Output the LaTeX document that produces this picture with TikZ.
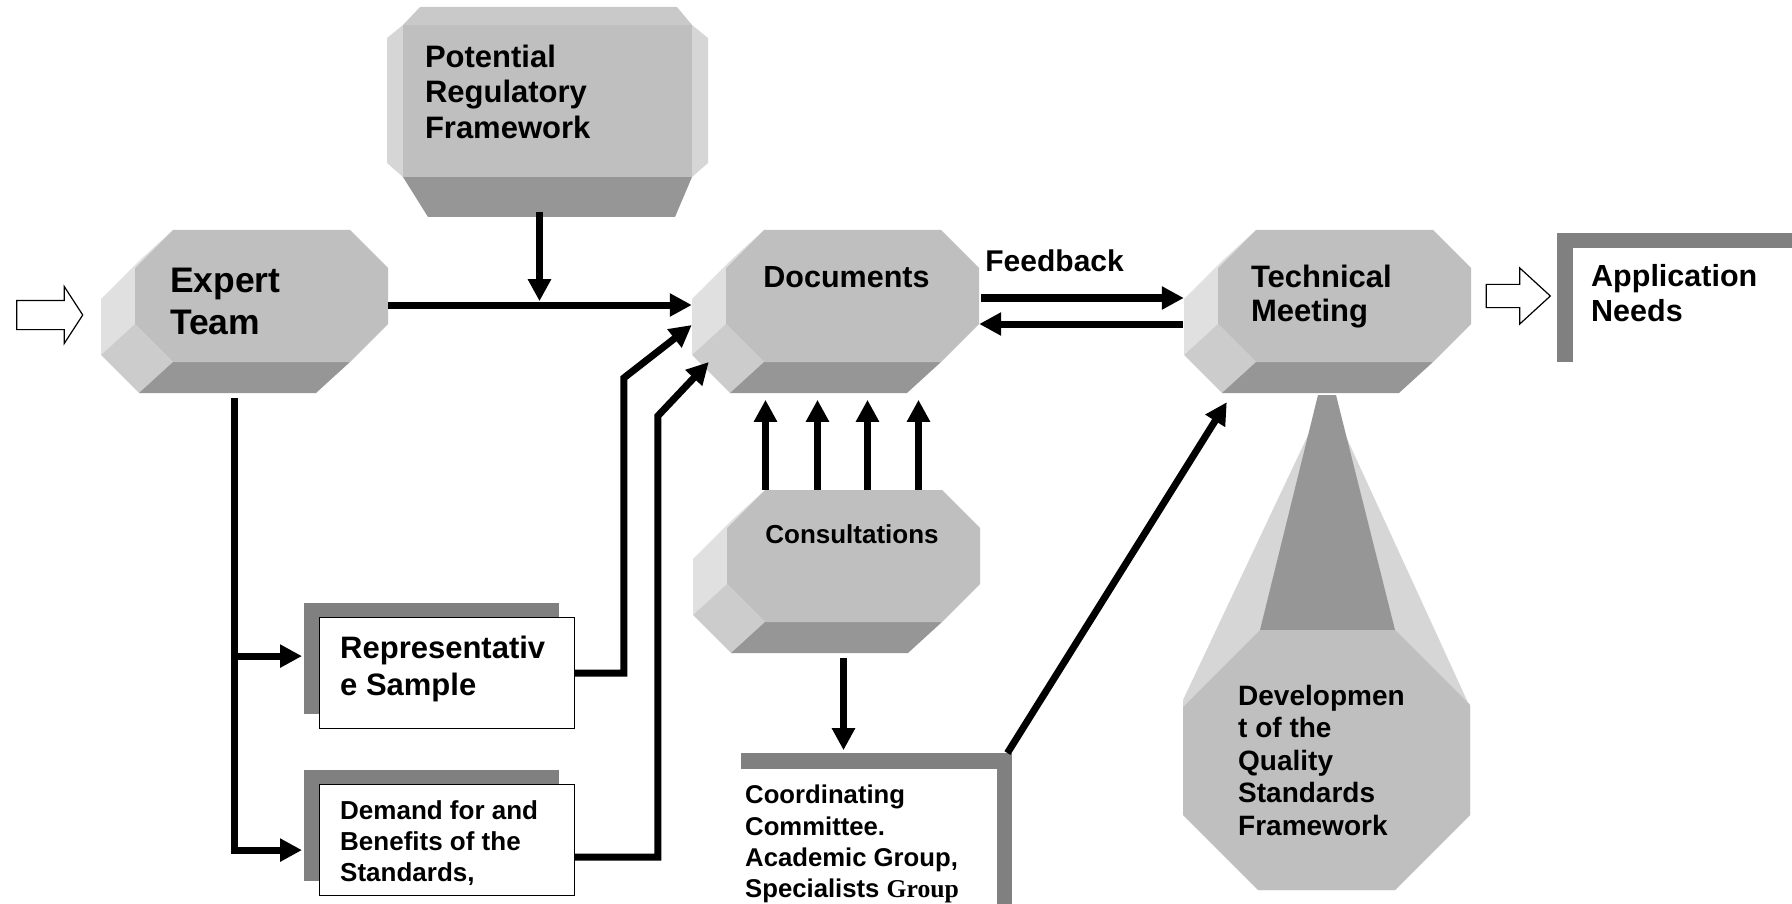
\documentclass[tikz,border=0pt]{standalone}
\usepackage{fontspec}
\setmainfont{Liberation Sans}
\newfontfamily\grpfont{Liberation Serif}
\usetikzlibrary{arrows.meta,calc,shapes.arrows,shadows}

\definecolor{facefront}{gray}{0.75}
\definecolor{faceleft}{gray}{0.88}
\definecolor{facechamf}{gray}{0.80}
\definecolor{facebottom}{gray}{0.59}
\definecolor{facetop}{gray}{0.79}
\definecolor{faceside}{gray}{0.84}
\definecolor{shadowgray}{gray}{0.5}

\newcommand{\txtsize}[2]{\fontsize{#1}{#2}\selectfont\bfseries}

% octagonal block seen from the lower left: name, left x, top y
\newcommand{\prism}[3]{%
  \begin{scope}[shift={(#2,#3)}]
    \fill[faceleft] (38,0) -- (0,38) -- (-34,69) -- (4,31) -- cycle;
    \fill[faceleft] (0,38) -- (0,94) -- (-34,125) -- (-34,69) -- cycle;
    \fill[facechamf] (0,94) -- (38,132) -- (4,163) -- (-34,125) -- cycle;
    \fill[facebottom] (38,132) -- (215,132) -- (181,163) -- (4,163) -- cycle;
    \fill[facefront] (38,0) -- (215,0) -- (253,38) -- (253,94) -- (215,132)
      -- (38,132) -- (0,94) -- (0,38) -- cycle;
    \node[frontface] (#1) at (126.5,66) {};
  \end{scope}}

\tikzset{
  conn/.style={line width=7pt, -{Triangle[length=22pt,width=22pt]}},
  hollow/.style={single arrow, draw, fill=white, line width=1.2pt, inner xsep=0},
  frontface/.style={inner sep=0, minimum width=253, minimum height=132},
  lbl/.style={inner sep=0, align=left, anchor=north west},
  box/.style={fill=white, inner sep=0, anchor=north west},
  leftshadow/.style={drop shadow={shadow xshift=-16pt, shadow yshift=15pt,
    fill=shadowgray, opacity=1}},
  rightshadow/.style={drop shadow={shadow xshift=15pt, shadow yshift=16pt,
    fill=shadowgray, opacity=1}}
}

\begin{document}
\begin{tikzpicture}[x=1pt, y=-1pt]
    \useasboundingbox (0,0) rectangle (1792,904);
    \fill[white] (0,0) rectangle (1792,904);

    % Blocks
    \prism{expert}{135}{230}
    \prism{docs}{726}{230}
    \prism{tech}{1218}{230}
    \prism{consult}{727}{490}

    % Potential regulatory framework
    \fill[facetop] (420,7) -- (677,7) -- (692,25) -- (403,25) -- cycle;
    \fill[faceside] (403,25) -- (387,38) -- (387,163) -- (403,177) -- cycle;
    \fill[faceside] (692,25) -- (708,38) -- (708,163) -- (692,177) -- cycle;
    \fill[facebottom] (403,177) -- (692,177) -- (675,217) -- (428,217) -- cycle;
    \fill[facefront] (403,25) rectangle (692,177);
    \node[inner sep=0, minimum width=289, minimum height=152] (regulatory) at (547.5,101) {};

    % Quality standards framework
    \fill[faceside] (1327,395) -- (1470,707) -- (1470,815) -- (1395,890)
      -- (1258,890) -- (1183,815) -- (1183,700) -- cycle;
    \fill[facebottom] (1318,395) -- (1336,395) -- (1395,630) -- (1260,630) -- cycle;
    \fill[facefront] (1260,630) -- (1395,630) -- (1470,705) -- (1470,815)
      -- (1395,890) -- (1258,890) -- (1183,815) -- (1183,707) -- cycle;

    % Boxes
    \node[box, leftshadow, draw, line width=1.2pt, minimum width=255, minimum height=111] (sample) at (319,617) {};
    \node[box, leftshadow, draw, line width=1.2pt, minimum width=255, minimum height=111] (demand) at (319,784) {};
    \node[box, leftshadow, minimum width=300, minimum height=129] (needs) at (1573,248) {};
    \node[box, rightshadow, minimum width=271, minimum height=200] (coord) at (726,769) {};

    % Hollow arrows
    \node[hollow, inner ysep=14, minimum height=66, minimum width=56, single arrow head extend=14,
      single arrow tip angle=114] (inarrow) at (45,315) {};
    \node[hollow, inner ysep=11, minimum height=64, minimum width=55, single arrow head extend=16.5,
      single arrow tip angle=85] (outarrow) at (1512,296) {};

    % Texts
    \node[lbl, font={\txtsize{35.5}{42}}] (experttxt) at ($(expert.north west)+(35,38)$) {Expert\\Team};
    \node[lbl, font={\txtsize{31}{35.4}}] (regtxt) at ($(regulatory.north west)+(22,20)$) {Potential\\Regulatory\\Framework};
    \node[inner sep=0, anchor=north, font={\txtsize{30.5}{31}}] (docstxt) at ($(docs.north)+(-6,37)$) {Documents};
    \node[lbl, font={\txtsize{30}{31}}] (feedback) at ($(docs.north east)+(6,20)$) {Feedback};
    \node[lbl, font={\txtsize{31}{34}}] (techtxt) at ($(tech.north west)+(33,35.5)$) {Technical\\Meeting};
    \node[lbl, font={\txtsize{30.5}{35}}] (needstxt) at ($(needs.north west)+(18,16)$) {Application\\Needs};
    \node[inner sep=0, anchor=north, font={\txtsize{26}{28}}] (consulttxt) at ($(consult.north)+(-1.5,35)$) {Consultations};
    \node[lbl, font={\txtsize{31}{36.5}}] (sampletxt) at ($(sample.north west)+(21,19)$) {Representativ\\e Sample};
    \node[lbl, font={\txtsize{26}{31.4}}] (demandtxt) at ($(demand.north west)+(21,16)$) {Demand for and\\Benefits of the\\Standards,};
    \node[lbl, font={\txtsize{25.7}{31.2}}] (coordtxt) at ($(coord.north west)+(19,16)$) {Coordinating\\Committee.\\Academic Group,\\Specialists {\grpfont Group}};
    \node[lbl, font={\txtsize{28}{32.5}}] (devel) at (1238,685) {Developmen\\t of the\\Quality\\Standards\\Framework};

    % Connectors
    \coordinate (merge) at ($(regulatory.south)+(-8,124)$);
    \draw[conn] ($(regulatory.south)+(-8,35)$) -- (merge);
    \draw[conn] ($(expert.east)+(0,9)$) -- ($(docs.west)+(-34,9)$);
    \draw[conn] ($(expert.south)+(-27,36)$) |- ($(demand.west)+(-17,10)$);
    \draw[conn] ($(expert.south)+(-27,36)$) |- ($(sample.west)+(-17,-17)$);
    \draw[conn] (sample.east) -| ($(docs.west)+(-102,82)$) -- ($(docs.west)+(-34,29)$);
    \draw[conn] ($(demand.east)+(0,17)$) -| ($(docs.west)+(-68,120)$) -- ($(docs.west)+(-17,66)$);
    \foreach \dx in {-88,-36,14,65}
        \draw[conn] ($(consult.north)+(\dx,0)$) -- ++(0,-90);
    \draw[conn] ($(docs.east)+(2,2)$) -- ($(tech.west)+(-34,2)$);
    \draw[conn] ($(tech.west)+(-35,28)$) -- ($(docs.east)+(0,28)$);
    \draw[conn] ($(consult.south)+(-10,36)$) -- ++(0,92);
    \draw[conn] ($(coord.north east)+(10,-16)$) -- ($(tech.south west)+(9,40)$);
\end{tikzpicture}
\end{document}
